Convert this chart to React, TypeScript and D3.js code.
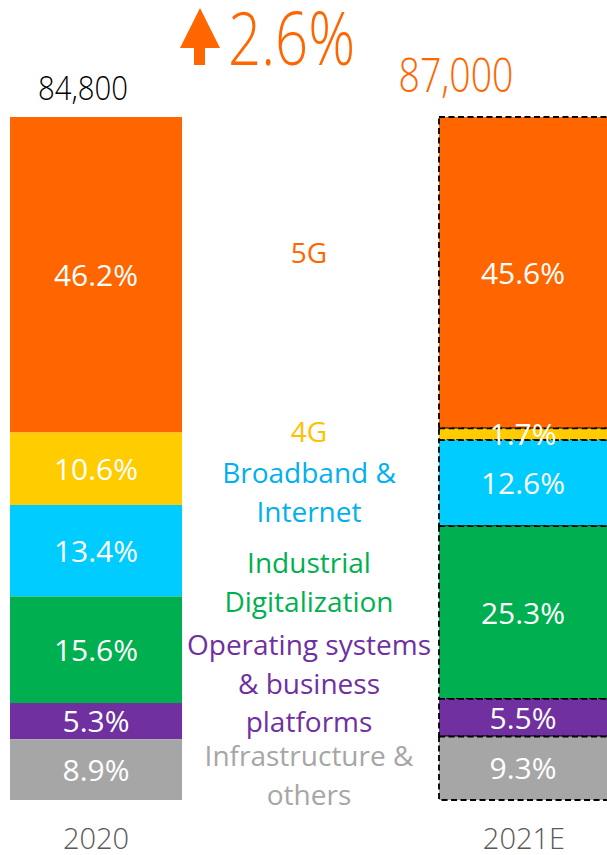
import React from "react";
import * as d3 from "d3";

const years = ["2020", "2021E"];
const totals = ["84,800", "87,000"];
const growth = "2.6%";
const categories = ["5G", "4G", "Broadband & Internet", "Industrial Digitalization", "Operating systems & business platforms", "Infrastructure & others"];
const categoryLines = [["5G"], ["4G"], ["Broadband &", "Internet"], ["Industrial", "Digitalization"], ["Operating systems", "& business", "platforms"], ["Infrastructure &", "others"]];
const values2020 = [46.2, 10.6, 13.4, 15.6, 5.3, 8.9];
const values2021 = [45.6, 1.7, 12.6, 25.3, 5.5, 9.3];

const barColors = ["#FF6600", "#FFCC00", "#00CCFF", "#00B050", "#7030A0", "#A6A6A6"];
const textColors = ["#FF6600", "#FFC000", "#00B0F0", "#00B050", "#7030A0", "#A6A6A6"];
const labelTop = [263, 442, 483, 573, 655, 766];

const W = 607, H = 855;
const FONT = "'Open Sans', sans-serif";

export default function App() {
  const x = d3.scaleBand<string>().domain(years).range([10, 611]).paddingInner(0.599).paddingOuter(0);
  const y = d3.scaleLinear().domain([0, 100]).range([800, 117]);
  const series = [values2020, values2021];
  const stacks = series.map((vals) => {
    let acc = 100;
    return vals.map((v, i) => {
      const s = { i, v, y1: acc, y0: acc - v };
      acc -= v;
      return s;
    });
  });
  const bw = x.bandwidth();
  return (
    <svg width={W} height={H} style={{ position: "absolute", left: 0, top: 0, background: "#fff" }} fontFamily={FONT} fontWeight={300}>
      {years.map((yr, bi) => (
        <g key={yr}>
          {stacks[bi].map((s) => (
            <rect key={s.i} x={x(yr)} y={y(s.y1)} width={bw} height={y(s.y0) - y(s.y1)} fill={barColors[s.i]}
              stroke={bi === 1 ? "#000" : "none"} strokeWidth={bi === 1 ? 1.8 : 0} strokeDasharray={bi === 1 ? "6,3.5" : undefined} />
          ))}
          {stacks[bi].map((s) => (
            <text key={"t" + s.i} x={(x(yr) as number) + bw / 2 - (bi === 1 ? 2 : 0)} y={(y(s.y0) + y(s.y1)) / 2 + 11} textAnchor="middle"
              fill="#fff" fontSize={30} fontWeight={400}>{s.v.toFixed(1)}%</text>
          ))}
          <text x={(x(yr) as number) + bw / 2 - (bi === 1 ? 1 : 0)} y={849} textAnchor="middle" fill="#595959" fontSize={29}>{yr}</text>
        </g>
      ))}
      <text x={83} y={100} textAnchor="middle" fill="#000" fontSize={33} textLength={90} lengthAdjust="spacingAndGlyphs">{totals[0]}</text>
      <text x={456} y={92} textAnchor="middle" fill="#FF6600" fontSize={47} textLength={115} lengthAdjust="spacingAndGlyphs">{totals[1]}</text>
      <path d="M180,48 L200,8 L220,48 L205,48 L205,65 L194,65 L194,48 Z" fill="#FF6600" />
      <text x={228} y={65} fill="#FF6600" fontSize={74} textLength={127} lengthAdjust="spacingAndGlyphs">{growth}</text>
      {categories.map((c, i) => (
        <text key={c} textAnchor="middle" fill={textColors[i]} fontSize={28} fontWeight={400}>
          {categoryLines[i].map((ln, li) => (
            <tspan key={li} x={309} y={labelTop[i] + li * 38.5}>{ln}</tspan>
          ))}
        </text>
      ))}
    </svg>
  );
}
